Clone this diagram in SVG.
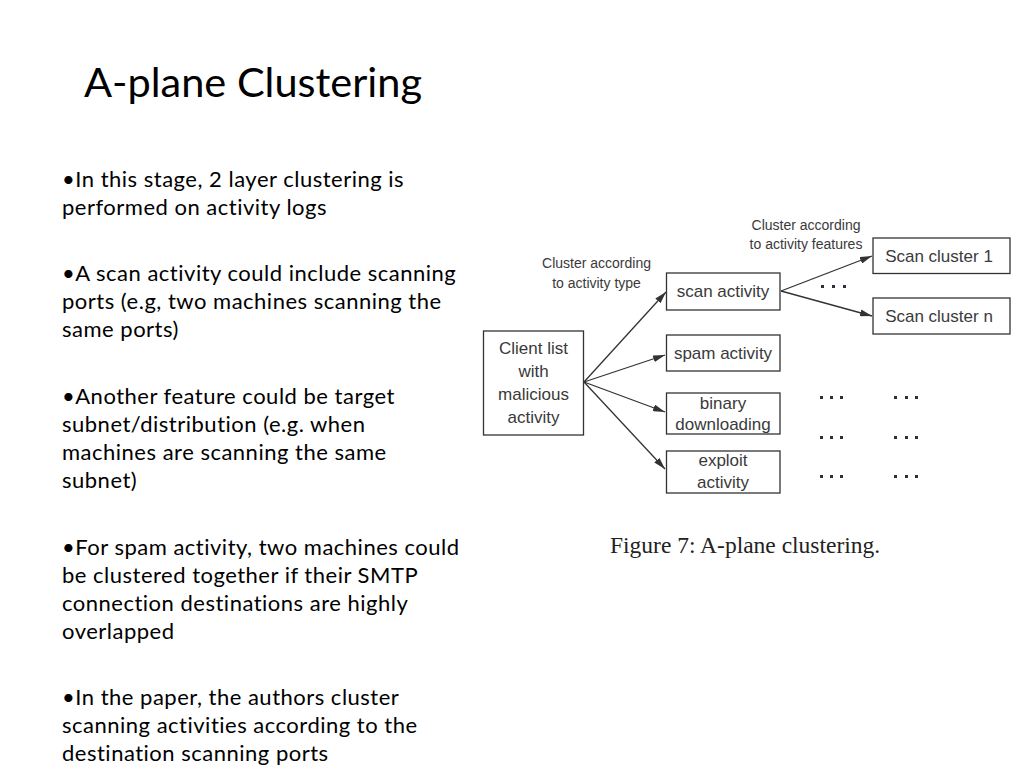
<svg xmlns="http://www.w3.org/2000/svg" width="1024" height="768" viewBox="0 0 1024 768">
<style>
.title{font-family:Lato,"Open Sans",sans-serif;font-size:41.5px;fill:#000}
.body{font-family:Lato,"Open Sans",sans-serif;font-size:22px;letter-spacing:0.5px;fill:#000}
.box{fill:#fff;stroke:#333;stroke-width:1.3}
.nt{font-family:"Liberation Sans",Arial,sans-serif;font-size:17px;fill:#3a3a3a;text-anchor:middle}
.lbl{font-family:"Liberation Sans",Arial,sans-serif;font-size:14px;fill:#3a3a3a;text-anchor:middle}
.cap{font-family:"Liberation Serif","Times New Roman",serif;font-size:23.5px;fill:#222}
.edge{stroke:#333;stroke-width:1.3;fill:none;marker-end:url(#ah)}
.dot{fill:#2a2f3a}
</style>
<defs>
<marker id="ah" viewBox="0 0 12 8" refX="12" refY="4" markerWidth="12" markerHeight="7" markerUnits="userSpaceOnUse" orient="auto" preserveAspectRatio="none">
<path d="M0,0 L12,4 L0,8 z" fill="#333"/>
</marker>
</defs>
<rect width="1024" height="768" fill="#fff"/>
<text class="title" x="84" y="97">A-plane Clustering</text>
<g id="bullets">
<text class="body" x="62" y="187">•In this stage, 2 layer clustering is</text>
<text class="body" x="62" y="215">performed on activity logs</text>
<text class="body" x="62" y="281">•A scan activity could include scanning</text>
<text class="body" x="62" y="309">ports (e.g, two machines scanning the</text>
<text class="body" x="62" y="337">same ports)</text>
<text class="body" x="62" y="404">•Another feature could be target</text>
<text class="body" x="62" y="432">subnet/distribution (e.g. when</text>
<text class="body" x="62" y="460">machines are scanning the same</text>
<text class="body" x="62" y="488">subnet)</text>
<text class="body" x="62" y="555">•For spam activity, two machines could</text>
<text class="body" x="62" y="583">be clustered together if their SMTP</text>
<text class="body" x="62" y="611">connection destinations are highly</text>
<text class="body" x="62" y="639">overlapped</text>
<text class="body" x="62" y="705">•In the paper, the authors cluster</text>
<text class="body" x="62" y="733">scanning activities according to the</text>
<text class="body" x="62" y="761">destination scanning ports</text>
</g>
<g id="connectors">
<line class="edge" x1="584" y1="382" x2="666" y2="292"/>
<line class="edge" x1="584" y1="382" x2="665" y2="355"/>
<line class="edge" x1="584" y1="382" x2="665" y2="412"/>
<line class="edge" x1="584" y1="382" x2="665" y2="469"/>
<line class="edge" x1="781" y1="291" x2="872" y2="256"/>
<line class="edge" x1="781" y1="291" x2="872" y2="316"/>
</g>
<g id="client">
<rect class="box" x="483.5" y="331" width="100" height="104"/>
<text class="nt" x="533.5" y="354">Client list</text>
<text class="nt" x="533.5" y="377">with</text>
<text class="nt" x="533.5" y="400">malicious</text>
<text class="nt" x="533.5" y="423">activity</text>
</g>
<g id="scan">
<rect class="box" x="666.5" y="273" width="113.5" height="37"/>
<text class="nt" x="723" y="297">scan activity</text>
</g>
<g id="spam">
<rect class="box" x="666.5" y="335" width="113.5" height="36"/>
<text class="nt" x="723" y="359">spam activity</text>
</g>
<g id="binary">
<rect class="box" x="666.5" y="393" width="113.5" height="41"/>
<text class="nt" x="723" y="409">binary</text>
<text class="nt" x="723" y="430">downloading</text>
</g>
<g id="exploit">
<rect class="box" x="666.5" y="451" width="113.5" height="42"/>
<text class="nt" x="723" y="466">exploit</text>
<text class="nt" x="723" y="488">activity</text>
</g>
<g id="cluster1">
<rect class="box" x="873" y="238" width="137" height="35.5"/>
<text class="nt" x="939" y="262">Scan cluster 1</text>
</g>
<g id="clustern">
<rect class="box" x="873" y="298" width="137" height="36"/>
<text class="nt" x="939" y="322">Scan cluster n</text>
</g>
<g id="labels">
<text class="lbl" x="596.5" y="268">Cluster according</text>
<text class="lbl" x="596.5" y="288">to activity type</text>
<text class="lbl" x="806" y="230">Cluster according</text>
<text class="lbl" x="806" y="249">to activity features</text>
</g>
<g id="dots">
<rect class="dot" x="821" y="285" width="3" height="3"/><rect class="dot" x="832" y="285" width="3" height="3"/><rect class="dot" x="843" y="285" width="3" height="3"/>
<rect class="dot" x="820" y="396" width="3" height="3"/><rect class="dot" x="830" y="396" width="3" height="3"/><rect class="dot" x="840" y="396" width="3" height="3"/>
<rect class="dot" x="894" y="396" width="3" height="3"/><rect class="dot" x="905" y="396" width="3" height="3"/><rect class="dot" x="915" y="396" width="3" height="3"/>
<rect class="dot" x="820" y="436" width="3" height="3"/><rect class="dot" x="830" y="436" width="3" height="3"/><rect class="dot" x="840" y="436" width="3" height="3"/>
<rect class="dot" x="894" y="436" width="3" height="3"/><rect class="dot" x="905" y="436" width="3" height="3"/><rect class="dot" x="915" y="436" width="3" height="3"/>
<rect class="dot" x="820" y="475" width="3" height="3"/><rect class="dot" x="830" y="475" width="3" height="3"/><rect class="dot" x="840" y="475" width="3" height="3"/>
<rect class="dot" x="894" y="475" width="3" height="3"/><rect class="dot" x="905" y="475" width="3" height="3"/><rect class="dot" x="915" y="475" width="3" height="3"/>
</g>
<text class="cap" x="610" y="553">Figure 7: A-plane clustering.</text>
</svg>
